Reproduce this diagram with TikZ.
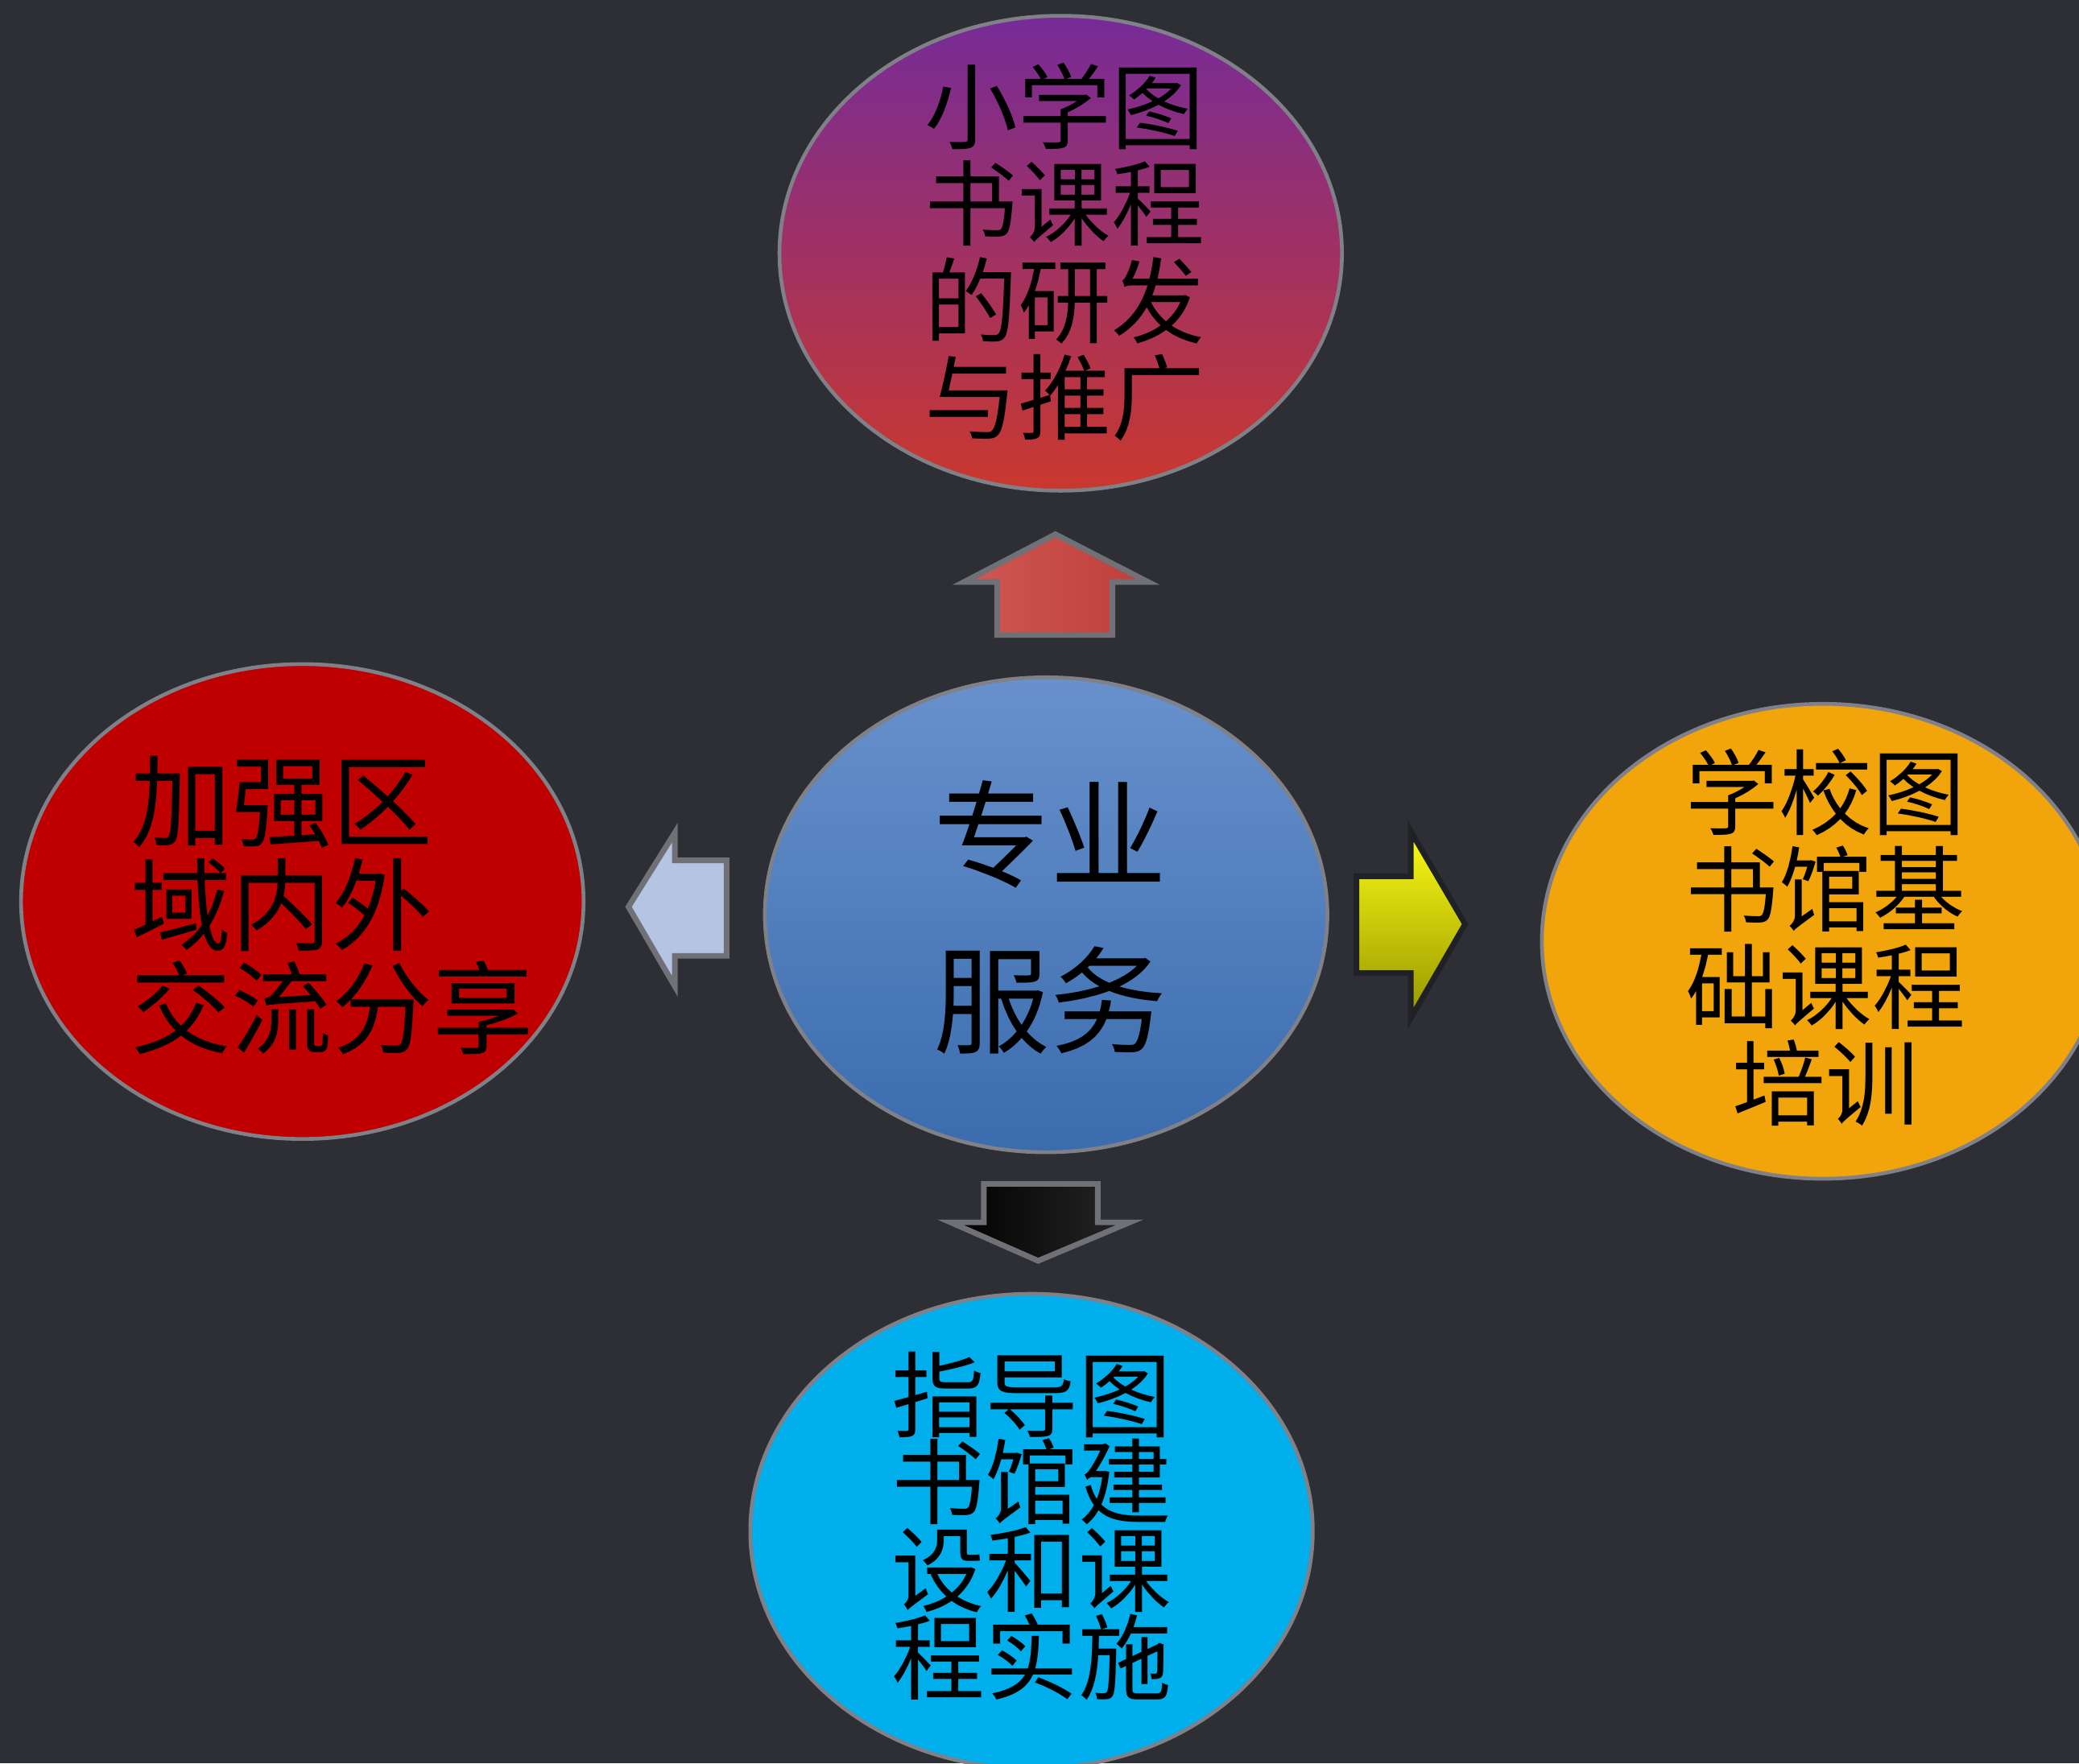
\documentclass[tikz,border=0pt]{standalone}
\usepackage{fontspec}
\newfontfamily\cjk{Noto Sans CJK SC}
\usepackage{xcolor}
\usepackage{tikz}
\usetikzlibrary{shapes.geometric}

\definecolor{bgdark}{RGB}{46,47,53}
\definecolor{rimgray}{RGB}{128,128,136}
\definecolor{topviolet}{RGB}{118,43,152}
\definecolor{topred}{RGB}{202,56,46}
\definecolor{midtop}{RGB}{104,145,204}
\definecolor{midbot}{RGB}{58,108,174}
\definecolor{leftred}{RGB}{190,0,0}
\definecolor{rightorange}{RGB}{242,165,10}
\definecolor{botcyan}{RGB}{0,174,235}
\definecolor{uplight}{RGB}{208,88,84}
\definecolor{updark}{RGB}{190,62,58}

\tikzset{
  bubble/.style={ellipse,draw=rimgray,line width=0.8pt,minimum width=4.24cm,
    minimum height=3.58cm,inner sep=0pt},
  caption/.style={text=black,inner sep=0pt,align=center,
    font=\cjk\fontsize{20}{20.8}\selectfont},
  blockarrow/.style={draw=rimgray!80!bgdark,line width=1.2pt,line join=miter},
}

\begin{document}
\begin{tikzpicture}[x=0.01cm,y=-0.01cm]
\fill[bgdark] (0,0) rectangle (1568,1330);
\useasboundingbox (0,0) rectangle (1568,1330);

% the five bubbles
\node[bubble,top color=topviolet,bottom color=topred] (research) at (800,191) {};
\node[bubble,top color=midtop,bottom color=midbot] (service) at (789,690) {};
\node[bubble,fill=leftred] (exchange) at (228,680) {};
\node[bubble,fill=rightorange] (training) at (1375,710) {};
\node[bubble,fill=botcyan] (guidance) at (778,1155) {};

\node[caption] (researchtxt) at (803,190) {小学图\\书课程\\的研发\\与推广};
\node[caption,font=\cjk\fontsize{25}{35.6}\selectfont] (servicetxt) at (792,692) {专业\\服务};
\node[caption,anchor=west,align=left,font=\cjk\fontsize{21.6}{22.2}\selectfont]
  (exchangetxt) at (98,683) {加强区\\域内外\\交流分享};
\node[caption] (trainingtxt) at (1377,707) {学校图\\书馆基\\础课程\\培训};
\node[caption,font=\cjk\fontsize{20}{18.8}\selectfont] (guidancetxt) at (778,1151) {指导图\\书馆建\\设和课\\程实施};

% block arrows
\filldraw[blockarrow,left color=uplight,right color=updark]
  (796,403) -- (866,439) -- (839,439) -- (839,479) -- (752,479) -- (752,439)
  -- (727,439) -- cycle;
\filldraw[blockarrow,fill={rgb,255:red,180;green,196;blue,226}]
  (474,684) -- (509,628) -- (509,649) -- (548,649) -- (548,721) -- (509,721)
  -- (509,744) -- cycle;
\filldraw[draw=bgdark!70!black,line width=1.2pt,line join=miter,
  top color={rgb,255:red,250;green,250;blue,20},bottom color={rgb,255:red,150;green,150;blue,0}]
  (1105,697) -- (1064,627) -- (1064,661) -- (1023,661) -- (1023,734) -- (1064,734)
  -- (1064,768) -- cycle;
\filldraw[blockarrow,left color=black,right color=black!85!white]
  (742,893) -- (828,893) -- (828,922) -- (852,922) -- (783,951) -- (717,922)
  -- (742,922) -- cycle;
\end{tikzpicture}
\end{document}
